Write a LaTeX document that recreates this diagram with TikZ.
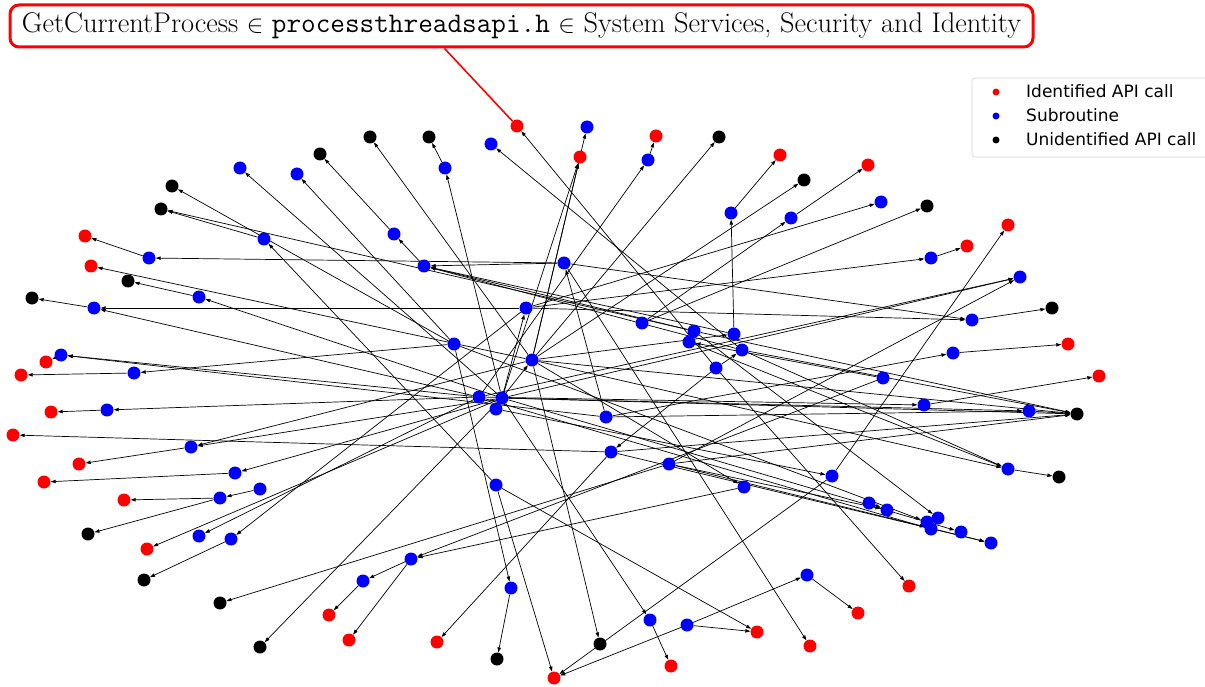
\documentclass[tikz,border=0pt]{standalone}
\usepackage{fontspec}
\newfontfamily\legendfont{DejaVu Sans}
\usepackage{xcolor}
\usepackage{tikz}
\usetikzlibrary{arrows.meta,calc,backgrounds}
\definecolor{apired}{RGB}{255,0,0}
\definecolor{subblue}{RGB}{0,0,255}
\definecolor{unkblack}{RGB}{0,0,0}
\definecolor{legedge}{RGB}{215,215,215}
\tikzset{
  callnode/.style={circle, inner sep=0pt, minimum size=13pt, draw=none},
  api/.style={callnode, fill=apired},
  sub/.style={callnode, fill=subblue},
  unk/.style={callnode, fill=unkblack},
  arr/.style={-{Triangle[length=5pt,width=3.4pt]}, draw=black, line width=0.7pt},
  titlebox/.style={
    draw=apired, line width=3pt, rounded corners=9pt, fill=white,
    minimum width=1023pt, minimum height=42pt, inner sep=0pt,
    font=\fontsize{28.4}{32}\selectfont
  },
  pinline/.style={draw=apired, line width=1.6pt},
  legbox/.style={draw=legedge, line width=0.8pt, rounded corners=3pt, fill=white},
  legdot/.style={circle, inner sep=0pt, minimum size=7pt, draw=none},
  legtext/.style={anchor=west, inner sep=0pt, font=\legendfont\fontsize{17}{20}\selectfont}
}
\begin{document}
\begin{tikzpicture}[x=1pt, y=-1pt]
  \useasboundingbox (0,0) rectangle (1205,687);

  \foreach \n/\x/\y in {a1/517/126, a2/580/157, a3/656/136, a4/780/155, a5/868/165,
      a6/1008/225, a7/967/246, a8/1068/344, a9/1099/376, a10/909/586, a11/858/613,
      a12/810/646, a13/757/632, a14/671/666, a15/554/678, a16/437/642, a17/349/640,
      a18/329/615, a19/147/549, a20/124/500, a21/44/482, a22/79/464, a23/13/435,
      a24/51/412, a25/21/375, a26/46/362, a27/91/266, a28/85/236}
    \node[api] (\n) at (\x,\y) {};

  \foreach \n/\x/\y in {u1/370/137, u2/429/137, u3/320/154, u4/172/186, u5/161/209,
      u6/128/281, u7/32/298, u8/88/534, u9/144/580, u10/220/603, u11/260/647,
      u12/497/659, u13/600/644, u14/1059/477, u15/1077/414, u16/1052/308,
      u17/927/206, u18/804/180, u19/719/137}
    \node[unk] (\n) at (\x,\y) {};

  \foreach \n/\x/\y in {s1/587/127, s2/491/144, s3/445/168, s4/648/160, s5/240/168,
      s6/297/174, s7/264/239, s8/149/258, s9/199/297, s10/94/308, s11/61/355,
      s12/134/373, s13/107/410, s14/191/447, s15/235/473, s16/260/489, s17/220/498,
      s18/199/536, s19/231/539, s20/411/559, s21/363/581, s22/511/588, s23/496/485,
      s24/650/620, s25/687/625, s26/807/575, s27/744/487, s28/669/464, s29/832/476,
      s30/869/503, s31/887/510, s32/927/522, s33/938/518, s34/931/529, s35/961/532,
      s36/991/543, s37/1008/469, s38/1029/411, s39/924/405, s40/883/378, s41/953/353,
      s42/972/320, s43/1020/277, s44/931/258, s45/881/202, s46/791/218, s47/731/213,
      s48/394/234, s49/424/266, s50/564/263, s51/526/308, s52/454/344, s53/532/360,
      s54/479/397, s55/502/398, s56/496/409, s57/606/417, s58/611/452, s59/642/323,
      s60/694/331, s61/689/342, s62/734/334, s63/742/350, s64/716/368}
    \node[sub] (\n) at (\x,\y) {};

  \begin{scope}[on background layer]
    \foreach \s/\t in {s50/s49, s50/s8, s8/a28, s53/a27, s9/u6, s55/s9, s10/u7,
        s51/s10, s54/s10, s54/s11, s57/s11, s11/a26, s12/a25, s52/s12, s13/a24,
        s54/s13, s58/a23, s53/s14, s55/s14, s14/a22, s15/a21, s55/s15, s16/s17,
        s17/a20, s17/u8, s55/a19, s54/s18, s51/s19, s19/u9, s28/u10, s55/u11,
        s21/a18, s20/s21, s20/a17, s27/s20, s40/s20, s58/a16, s52/s22, s22/u12,
        s23/a15, s29/a15, s25/a15, s53/u13, s23/a13, s55/s24, s24/a14, s25/s26,
        s25/a13, s26/a11, s50/a12, s64/a10, s53/s27, s28/u15, s63/u15, s60/u15,
        s53/u15, s55/u15, s38/u15, s58/u15, s55/s38, s57/s38, s39/a9, s54/s39,
        s41/a8, s57/s41, s54/s43, s55/s43, s28/s43, s29/a6, s42/u16, s50/s42,
        s51/s42, s51/s44, s44/a7, s51/s45, s59/s46, s46/a5, s53/u18, s59/u17,
        s47/a4, s62/s47, s53/u19, s4/a3, s54/s4, s53/s1, s55/a2, s53/a2, s57/s50,
        s62/s49, s63/s49, s60/s49, s49/s48, s48/u3, s3/u2, s55/s3, s53/u1, s52/s6,
        s55/s5, s52/u4, s7/u5, s60/u5, s23/s7, s63/s2, s64/a1, s53/s62, s64/s58,
        s64/s63, s40/s61, s63/s37, s61/s37, s53/s37, s37/u14, s58/s36, s28/s36,
        s28/s31, s30/s31, s55/s35, s54/s34, s52/s32, s60/s33, s56/s29, s55/s53,
        s55/s51}
      \draw[arr] (\s) -- (\t);
  \end{scope}

  \node[titlebox] (title) at (521.5,26)
    {GetCurrentProcess $\in$ \texttt{processthreadsapi.h} $\in$ System Services, Security and Identity};
  \coordinate (pin) at ($(title.south west)!0.425!(title.south east)$);
  \draw[pinline] (pin) -- (a1);

  \draw[legbox] (972,78) rectangle (1212,157);
  \node[legdot, fill=apired] (l1) at (996,92) {};
  \node[legdot, fill=subblue] (l2) at (996,116) {};
  \node[legdot, fill=unkblack] (l3) at (996,140) {};
  \node[legtext] (t1) at (1026,91) {Identified API call};
  \node[legtext] (t2) at (1026,115) {Subroutine};
  \node[legtext] (t3) at (1026,139) {Unidentified API call};
\end{tikzpicture}
\end{document}
